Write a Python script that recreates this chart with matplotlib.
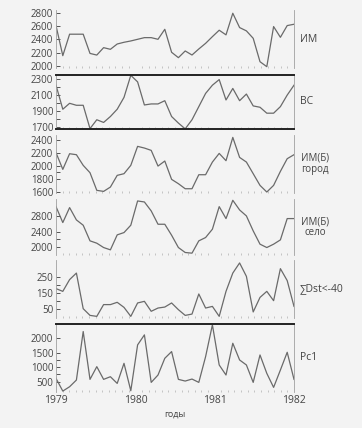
import numpy as np
import matplotlib
matplotlib.use("Agg")
import matplotlib.pyplot as plt

plt.rcParams['font.family'] = ['Open Sans', 'DejaVu Sans']

# 36 points spread over 1979-1982
years = np.linspace(1979, 1982, 36)

im = [2610, 2156, 2480, 2480, 2480, 2190, 2165, 2277, 2252, 2332, 2358, 2378,
      2403, 2428, 2428, 2403, 2554, 2207, 2126, 2227, 2166, 2257, 2342, 2443,
      2540, 2470, 2796, 2580, 2530, 2418, 2065, 1990, 2595, 2433, 2610, 2630]
vs = [2225, 1921, 1996, 1971, 1971, 1676, 1788, 1754, 1829, 1921, 2071, 2350,
      2267, 1975, 1988, 1988, 2029, 1829, 1746, 1673, 1788, 1954, 2121, 2225,
      2296, 2038, 2184, 2029, 2113, 1963, 1946, 1871, 1871, 1954, 2100, 2225]
im_city = [2204, 1946, 2188, 2173, 2008, 1894, 1621, 1605, 1672, 1853, 1879, 2008,
           2302, 2276, 2240, 1997, 2075, 1791, 1724, 1646, 1646, 1863, 1863, 2059,
           2193, 2080, 2441, 2131, 2059, 1879, 1698, 1595, 1698, 1915, 2111, 2173]
im_village = [3038, 2630, 3013, 2698, 2562, 2162, 2102, 1991, 1932, 2315, 2374, 2562,
              3183, 3157, 2928, 2587, 2587, 2306, 1991, 1864, 1847, 2162, 2247, 2460,
              3038, 2732, 3200, 2953, 2800, 2417, 2077, 1991, 2077, 2187, 2732, 2732]
dst = [177, 160, 232, 272, 54, 13, 7, 79, 79, 93, 62, 7,
       89, 99, 38, 58, 64, 89, 48, 13, 21, 144, 58, 68,
       7, 160, 272, 334, 252, 34, 123, 160, 103, 299, 226, 68]
pc1 = [615, 177, 327, 558, 2233, 581, 1020, 581, 673, 442, 1135, 188,
       1771, 2117, 477, 731, 1309, 1540, 581, 523, 592, 477, 1366, 2464,
       1078, 731, 1828, 1251, 1078, 477, 1424, 789, 304, 904, 1516, 581]

series = [im, vs, im_city, im_village, dst, pc1]
names = ["ИМ", "ВС", "ИМ(Б)\nгород", "ИМ(Б)\nсело", "∑Dst<-40", "Pc1"]
yticks = [[2000, 2200, 2400, 2600, 2800],
          [1700, 1900, 2100, 2300],
          [1600, 1800, 2000, 2200, 2400],
          [2000, 2400, 2800],
          [50, 150, 250],
          [500, 1000, 1500, 2000]]
minor = [[], [1800, 2000, 2200], [1900], [2200], [100, 200], [750, 1250]]
ylims = [(1970, 2845), (1671, 2354), (1580, 2478), (1800, 3233), (-3, 352), (145, 2493)]
boxes = [(10, 68), (75, 129), (135, 193), (199, 255), (260, 318), (324, 392)]
years_ticks = [1979, 1980, 1981, 1982]

W, H = 362, 428
fig = plt.figure(figsize=(W / 100, H / 100), dpi=100)
fig.patch.set_facecolor('#f3f3f3')

txt = '#444444'
for i in range(6):
    top, bot = boxes[i]
    ax = fig.add_axes([56 / W, 1 - bot / H, 238 / W, (bot - top) / H])
    ax.set_facecolor('#f3f3f3')
    ax.plot(years, series[i], color='#6a6a6a', lw=0.9)
    ax.set_xlim(1979, 1982)
    ax.set_ylim(*ylims[i])
    ax.set_yticks(yticks[i])
    ax.set_yticks(minor[i], minor=True)
    ax.tick_params(axis='y', which='both', direction='in', length=3, width=0.7,
                   colors='#555555', labelsize=7, labelcolor=txt, pad=2)
    ax.set_xticks(np.arange(1979, 1982.01, 1 / 12), minor=True)
    ax.tick_params(axis='x', which='minor', direction='in', length=1.2, width=0.6,
                   colors='#bbbbbb')
    ax.set_xticks(years_ticks)
    if i == 5:
        ax.set_xticklabels([str(y) for y in years_ticks])
        ax.tick_params(axis='x', which='major', direction='in', length=0,
                       labelsize=7.5, labelcolor=txt, pad=2)
        ax.set_xlabel("годы", fontsize=6.5, color=txt, labelpad=3)
    else:
        ax.set_xticklabels([])
        ax.tick_params(axis='x', which='major', length=0)
    for s in ['left', 'right']:
        ax.spines[s].set_color('#a0a0a0')
        ax.spines[s].set_linewidth(0.6)
    ax.spines['bottom'].set_visible(False)
    ax.spines['top'].set_visible(False)
    if i == 1:
        for s in ['top', 'bottom']:
            ax.spines[s].set_visible(True)
            ax.spines[s].set_color('#222222')
            ax.spines[s].set_linewidth(1.4)
    if i == 5:
        ax.spines['top'].set_visible(True)
        ax.spines['top'].set_color('#222222')
        ax.spines['top'].set_linewidth(1.4)
    if "\n" in names[i]:
        ax.text(1.09, 0.5, names[i], transform=ax.transAxes, ha='center',
                va='center', fontsize=7, color=txt, linespacing=1.0)
    else:
        ax.text(1.025, 0.5, names[i], transform=ax.transAxes, ha='left',
                va='center', fontsize=7.5, color=txt)

fig.savefig("out.png", dpi=100, facecolor=fig.get_facecolor())
